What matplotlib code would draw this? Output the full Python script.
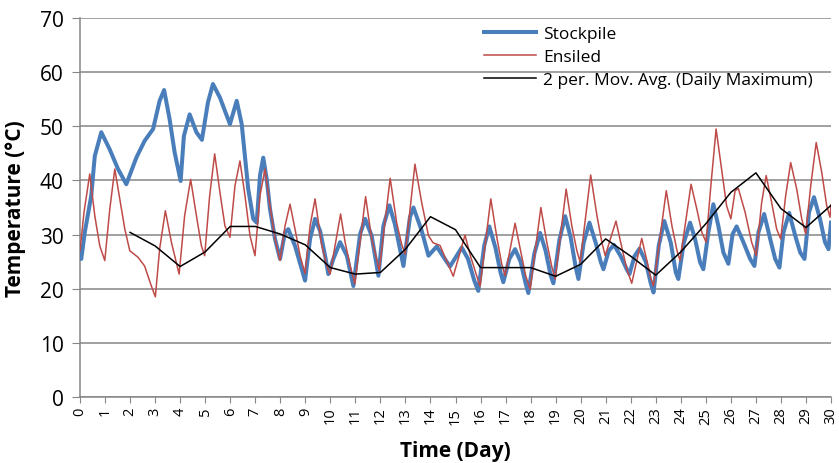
import matplotlib.pyplot as plt

plt.rcParams['font.family'] = ['Open Sans', 'DejaVu Sans']

# Stockpile temperature, points
stock_day = [0.0, 0.05, 0.19, 0.45, 0.59, 0.85, 1.18, 1.52, 1.85, 2.25, 2.58, 2.92, 3.18, 3.36,
             3.58, 3.78, 4.02, 4.15, 4.38, 4.65, 4.87, 5.11, 5.31, 5.59, 5.99, 6.26, 6.46,
             6.59, 6.72, 6.92, 7.06, 7.19, 7.32, 7.46, 7.59, 7.79, 7.99, 8.19, 8.32, 8.59,
             8.99, 9.19, 9.39, 9.59, 9.79, 9.92, 10.12, 10.39, 10.66, 10.92, 11.19, 11.39,
             11.65, 11.92, 12.12, 12.36, 12.58, 12.92, 13.18, 13.32, 13.65, 13.92, 14.25,
             14.5, 14.78, 15.25, 15.5, 15.75, 15.91, 16.15, 16.35, 16.6, 16.8, 16.91, 17.15,
             17.38, 17.6, 17.8, 17.91, 18.15, 18.38, 18.6, 18.8, 18.91, 19.15, 19.38, 19.6,
             19.8, 19.91, 20.12, 20.35, 20.6, 20.8, 20.91, 21.12, 21.33, 21.6, 21.85, 21.95,
             22.15, 22.35, 22.6, 22.8, 22.91, 23.12, 23.34, 23.6, 23.8, 23.9, 24.12, 24.37,
             24.57, 24.77, 24.9, 25.1, 25.3, 25.5, 25.7, 25.9, 26.07, 26.23, 26.5, 26.77,
             26.94, 27.1, 27.33, 27.57, 27.77, 27.94, 28.1, 28.33, 28.57, 28.77, 28.94,
             29.12, 29.32, 29.56, 29.76, 29.9, 30.0]
stock_temp = [26.5, 25.5, 30.4, 37.2, 44.5, 48.9, 45.8, 42.1, 39.3, 44.2, 47.3, 49.5, 54.7, 56.7,
              51.3, 45.2, 39.9, 48.2, 52.2, 48.9, 47.5, 54.4, 57.8, 55.3, 50.4, 54.7, 50.4,
              44.5, 38.4, 32.9, 32.2, 40.9, 44.2, 40.2, 34.7, 29.2, 25.5, 30.4, 31.0, 27.9,
              21.5, 29.2, 32.9, 30.7, 26.1, 22.7, 25.5, 28.6, 26.1, 20.5, 30.1, 32.9,
              29.8, 22.4, 31.6, 35.4, 31.9, 24.2, 33.2, 35.0, 30.7, 26.1, 27.8,
              26.0, 24.1, 27.6, 25.5, 21.5, 19.6, 28.0, 31.5, 27.5, 23.0, 21.2, 25.5,
              27.3, 25.0, 21.0, 19.2, 26.5, 30.3, 27.0, 22.5, 21.0, 29.0, 33.4, 29.5,
              24.0, 21.8, 28.5, 32.2, 28.5, 25.0, 23.6, 27.0, 28.1, 26.0, 23.5, 22.7,
              26.0, 27.4, 25.0, 21.0, 19.3, 28.0, 32.5, 28.5, 23.0, 21.8, 28.5, 32.2,
              29.2, 24.9, 23.6, 30.4, 35.6, 31.6, 26.7, 24.6, 30.1, 31.5, 28.6, 25.5,
              24.2, 30.4, 33.8, 29.2, 25.5, 23.9, 30.4, 34.0, 29.8, 26.7, 25.5,
              34.1, 36.9, 32.9, 28.6, 27.3, 32.2]

# Ensiled temperature
ens_day = [0.0, 0.16, 0.39, 0.59, 0.79, 0.99, 1.19, 1.39, 1.59, 1.79, 1.99, 2.32, 2.58, 2.85,
           3.01, 3.18, 3.41, 3.65, 3.96, 4.18, 4.42, 4.65, 4.85, 4.98, 5.18, 5.38, 5.59, 5.79,
           5.99, 6.19, 6.39, 6.59, 6.79, 6.99, 7.19, 7.39, 7.59, 7.79, 7.99, 8.19, 8.39, 8.59,
           8.79, 8.99, 9.19, 9.39, 9.65, 9.86, 9.99, 10.41, 10.59, 10.79, 10.98, 11.41, 11.65,
           11.85, 11.95, 12.39, 12.65, 12.85, 12.99, 13.38, 13.65, 13.92, 14.1, 14.38, 14.91,
           15.38, 15.6, 15.98, 16.41, 16.65, 16.85, 16.98, 17.38, 17.6, 17.8, 17.98, 18.41,
           18.65, 18.85, 18.98, 19.42, 19.65, 19.85, 19.98, 20.4, 20.65, 20.85, 20.98, 21.41,
           21.65, 21.85, 22.04, 22.44, 22.65, 22.8, 22.91, 23.42, 23.65, 23.85, 23.97, 24.41,
           24.64, 24.84, 25.01, 25.2, 25.41, 25.63, 25.83, 26.0, 26.17, 26.3, 26.57, 26.83,
           27.01, 27.23, 27.41, 27.63, 27.83, 27.99, 28.19, 28.39, 28.63, 28.83, 28.99, 29.19,
           29.41, 29.63, 29.83, 29.96, 30.0]
ens_temp = [27.0, 34.1, 41.2, 33.5, 27.9, 25.2, 34.7, 42.1, 36.6, 31.0, 27.0, 25.8, 24.2, 20.5,
            18.5, 27.3, 34.4, 28.6, 22.7, 33.5, 40.2, 33.5, 27.9, 26.1, 37.2, 44.9, 37.8, 31.6,
            29.5, 39.0, 43.6, 37.2, 29.8, 26.1, 37.2, 42.1, 35.3, 29.2, 25.2, 31.6, 35.6, 31.0,
            26.1, 22.8, 31.6, 36.6, 28.2, 24.2, 22.7, 33.8, 28.6, 24.2, 20.9, 37.0, 29.2,
            25.5, 23.3, 40.4, 32.2, 28.2, 26.4, 43.0, 35.9, 29.8, 28.5, 28.0, 22.3,
            29.9, 26.0, 20.4, 36.6, 29.5, 24.5, 22.4, 32.1, 27.0, 22.5, 19.9, 35.0,
            28.5, 24.0, 21.8, 38.4, 31.5, 27.0, 24.9, 41.0, 33.5, 28.5, 26.1, 32.5,
            27.5, 23.5, 21.0, 29.3, 25.0, 22.0, 20.5, 38.1, 31.5, 27.0, 25.2, 39.3,
            34.7, 30.4, 28.6, 39.0, 49.5, 42.1, 35.3, 32.9, 38.1, 38.5, 34.1, 28.6,
            26.1, 35.9, 40.9, 35.9, 31.0, 29.2, 37.2, 43.3, 38.4, 32.9, 30.1, 39.0,
            47.0, 41.5, 35.3, 33.2, 35.5]

# 2 per. moving average of the daily maximum
avg_day = list(range(2, 31))
avg_temp = [30.4, 27.9, 24.1, 26.8, 31.5, 31.5, 30.1, 28.1, 23.9, 22.7, 23.0, 27.3, 33.3,
            30.9, 23.9, 23.9, 23.9, 22.3, 24.5, 29.2, 26.0, 22.5, 26.8, 32.0, 37.8,
            41.4, 34.8, 31.3, 35.4]

fig = plt.figure(figsize=(8.39, 4.64), dpi=100)
ax = fig.add_axes([80 / 839, 1 - 398 / 464, 751 / 839, 379 / 464])

ax.plot(stock_day, stock_temp, color='#4a7ebb', lw=2.9, label='Stockpile', zorder=3)
ax.plot(ens_day, ens_temp, color='#be4b48', lw=1.1, label='Ensiled', zorder=4)
ax.plot(avg_day, avg_temp, color='black', lw=1.1,
        label='2 per. Mov. Avg. (Daily Maximum)', zorder=5)

ax.set_xlim(0, 30)
ax.set_ylim(0, 70)
ax.set_xticks(range(0, 31))
ax.set_yticks(range(0, 71, 10))
ax.tick_params(axis='x', labelsize=10.5, rotation=90, length=4, color='#868686', pad=3)
ax.tick_params(axis='y', labelsize=15, length=5.8, color='#868686', pad=6)
ax.grid(axis='y', color='#868686', lw=1.1)
ax.set_axisbelow(True)
for s in ['top', 'right']:
    ax.spines[s].set_visible(False)
for s in ['left', 'bottom']:
    ax.spines[s].set_color('#868686')
    ax.spines[s].set_linewidth(1.1)

ax.set_xlabel('Time (Day)', fontsize=15, fontweight='bold', labelpad=12)
ax.set_ylabel('Temperature (°C)', fontsize=15, fontweight='bold', labelpad=10)

ax.legend(loc='upper left', bbox_to_anchor=(484 / 839, 1 - 27 / 464),
          bbox_transform=fig.transFigure, frameon=False, fontsize=12.5,
          handlelength=3.0, handletextpad=0.4, labelspacing=0.39, borderpad=0,
          borderaxespad=0)

fig.savefig('out.png', dpi=100)
